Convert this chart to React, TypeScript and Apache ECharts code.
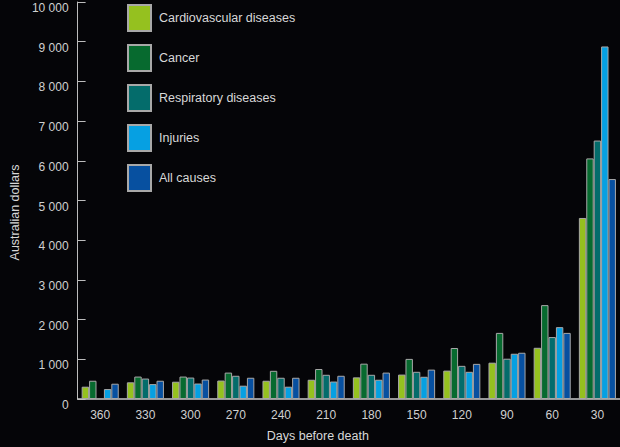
import { useEffect, useRef } from 'react';
import * as echarts from 'echarts';

const days = ['360', '330', '300', '270', '240', '210', '180', '150', '120', '90', '60', '30'];
const cardiovascular = [310, 420, 435, 465, 460, 485, 545, 615, 715, 915, 1290, 4560];
const cancer = [460, 565, 565, 665, 710, 755, 890, 1010, 1285, 1665, 2365, 6060];
const respiratory: (number | string)[] = ['-', 515, 540, 585, 535, 610, 610, 685, 835, 1015, 1560, 6510];
const injuries = [250, 375, 390, 335, 310, 440, 485, 560, 685, 1140, 1810, 8880];
const allCauses = [385, 460, 490, 535, 535, 585, 665, 740, 885, 1165, 1665, 5540];

const seriesNames = ['Cardiovascular diseases', 'Cancer', 'Respiratory diseases', 'Injuries', 'All causes'];
const colors = ['#95c11f', '#076a2f', '#046c6b', '#06a0e2', '#0750a0'];

const font = 'Liberation Sans';

const fmt = (v: number) => {
  if (v < 1000) return String(v);
  const th = Math.floor(v / 1000);
  return `${th} 000`;
};

export default function App() {
  const ref = useRef<HTMLDivElement>(null);

  useEffect(() => {
    document.body.style.margin = '0';
    document.body.style.background = '#050508';
    if (!ref.current) return;
    const chart = echarts.init(ref.current, undefined, { renderer: 'svg' });

    const values = [cardiovascular, cancer, respiratory, injuries, allCauses];

    chart.setOption({
      animation: false,
      backgroundColor: '#050508',
      grid: { left: 66, right: 0, top: 2, bottom: 46 },
      legend: {
        orient: 'vertical',
        left: 127,
        top: 4,
        padding: 0,
        itemWidth: 23,
        itemHeight: 26,
        itemGap: 12,
        icon: 'rect',
        data: seriesNames,
        textStyle: {
          color: '#d8d8d8',
          fontFamily: font,
          fontSize: 12.5,
          padding: [0, 0, 0, 3],
        },
      },
      xAxis: {
        type: 'category',
        data: days,
        name: 'Days before death',
        nameLocation: 'middle',
        nameGap: 30,
        nameTextStyle: {
          color: '#d8d8d8',
          fontFamily: font,
          fontSize: 12.5,
          padding: [0, 62, 0, 0],
        },
        axisLine: { lineStyle: { color: '#c8c8c8', width: 1.5 } },
        axisTick: { show: false },
        axisLabel: { color: '#d0d0d0', fontFamily: font, fontSize: 12, margin: 10 },
      },
      yAxis: {
        type: 'value',
        min: 0,
        max: 10000,
        interval: 1000,
        name: 'Australian dollars',
        nameLocation: 'middle',
        nameGap: 56,
        nameTextStyle: {
          color: '#d8d8d8',
          fontFamily: font,
          fontSize: 12.5,
          padding: [0, 24, 0, 0],
        },
        axisLine: { show: true, lineStyle: { color: '#bdbdbd', width: 1 } },
        axisTick: { show: true, inside: true, length: 8, lineStyle: { color: '#bdbdbd' } },
        splitLine: { show: false },
        axisLabel: {
          color: '#d0d0d0',
          fontFamily: font,
          fontSize: 12,
          margin: 9,
          verticalAlign: 'top',
          formatter: (v: number) => fmt(v),
        },
      },
      series: seriesNames.map((name, i) => ({
        name,
        type: 'bar',
        data: values[i],
        barGap: '0%',
        barCategoryGap: '18%',
        itemStyle: { color: colors[i], borderColor: '#a8a8a8', borderWidth: 1 },
      })),
    });

    return () => {
      chart.dispose();
    };
  }, []);

  return <div ref={ref} style={{ width: 620, height: 447 }} />;
}
